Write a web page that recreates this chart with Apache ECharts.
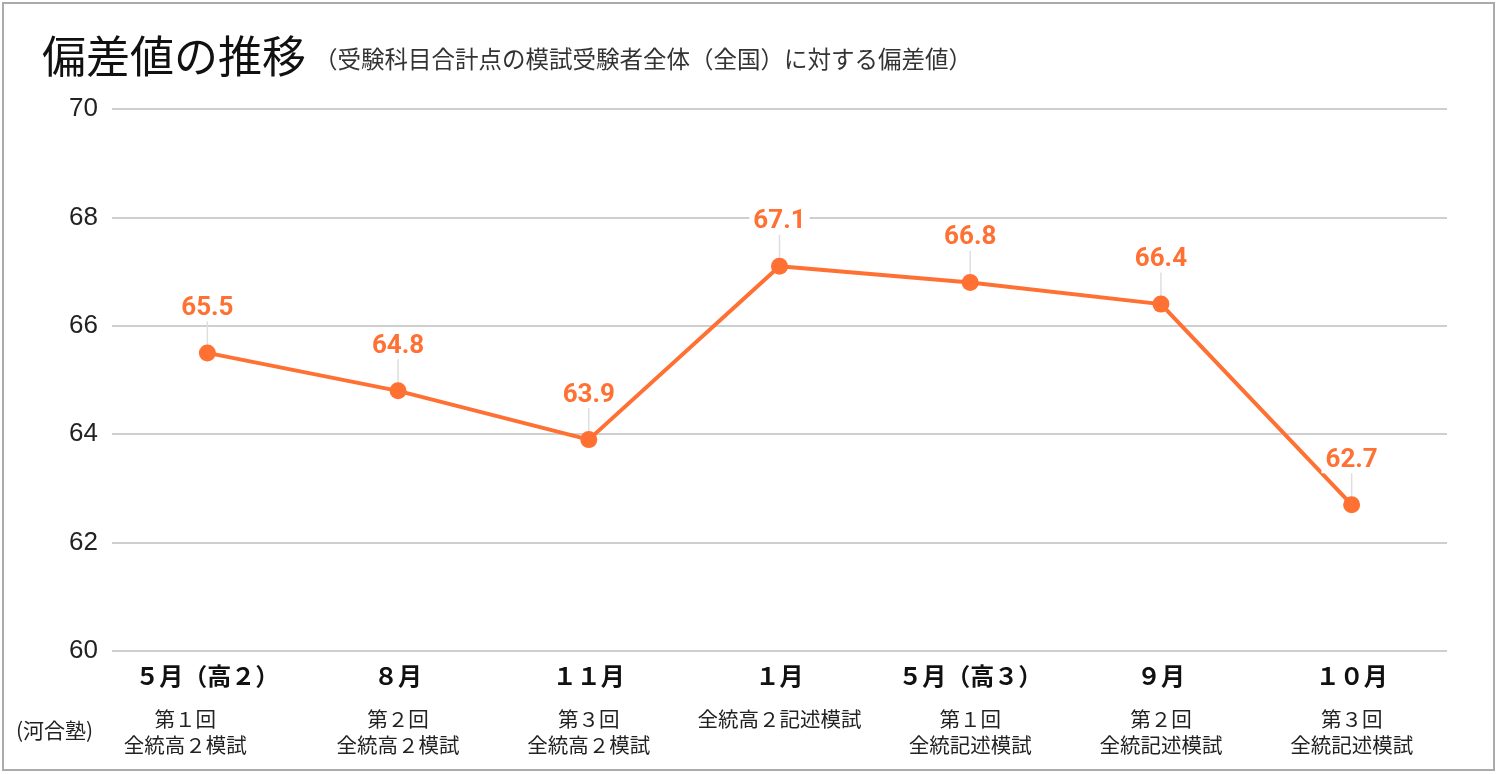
<!DOCTYPE html>
<html>
<head>
<meta charset="utf-8">
<script src="https://cdn.jsdelivr.net/npm/echarts@6/dist/echarts.min.js"></script>
<style>
html, body { margin: 0; padding: 0; background: #fff; }
#chart { width: 1498px; height: 774px; }
</style>
</head>
<body>
<div id="chart"></div>
<script>
// 月（横軸の上段）
const months = ['５月（高２）', '８月', '１１月', '１月', '５月（高３）', '９月', '１０月'];
// 模試名（横軸の下段）
const exams = [
  ['第１回', '全統高２模試'],
  ['第２回', '全統高２模試'],
  ['第３回', '全統高２模試'],
  ['全統高２記述模試'],
  ['第１回', '全統記述模試'],
  ['第２回', '全統記述模試'],
  ['第３回', '全統記述模試']
];
// 偏差値
const scores = [65.5, 64.8, 63.9, 67.1, 66.8, 66.4, 62.7];
const yTicks = [60, 62, 64, 66, 68, 70];

const orange = '#FF7033';
const jp = '"Noto Sans CJK JP", sans-serif';

const chart = echarts.init(document.getElementById('chart'));

const option = {
  animation: false,
  title: [
    {
      text: '偏差値の推移',
      left: 37,
      top: 29,
      textStyle: { fontFamily: jp, fontSize: 44, fontWeight: 'normal', color: '#111' }
    },
    {
      text: '（受験科目合計点の模試受験者全体（全国）に対する偏差値）',
      left: 309,
      top: 42,
      textStyle: { fontFamily: jp, fontSize: 23.5, fontWeight: 'normal', color: '#333' }
    }
  ],
  graphic: [
    {
      type: 'rect',
      shape: { x: 3, y: 3, width: 1491, height: 767 },
      style: { fill: 'none', stroke: '#ababab', lineWidth: 2 },
      silent: true
    },
    {
      type: 'text',
      left: 16,
      top: 720,
      style: { text: '(河合塾)', font: '21px ' + jp, fill: '#222' }
    }
  ],
  grid: { left: 112, right: 51, top: 109, bottom: 123 },
  xAxis: {
    type: 'category',
    data: months,
    boundaryGap: true,
    axisLine: { show: false },
    axisTick: { show: false },
    axisLabel: {
      margin: 9,
      interval: 0,
      formatter: (v, i) => {
        // 最初の模試名だけ元の図で左に寄っている
        const st = i === 0 ? 'e0' : 'e';
        const lines = exams[i].map(s => '{' + st + '|' + s + '}').join('\n');
        return '{m|' + v + '}\n{s| }\n' + lines;
      },
      rich: {
        m: { fontFamily: jp, fontSize: 24, fontWeight: 'bold', color: '#111', lineHeight: 32 },
        s: { fontSize: 10, lineHeight: 14 },
        e: { fontFamily: jp, fontSize: 20.5, color: '#222', lineHeight: 26 },
        e0: { fontFamily: jp, fontSize: 20.5, color: '#222', lineHeight: 26, padding: [0, 44, 0, 0] }
      }
    }
  },
  yAxis: {
    type: 'value',
    min: yTicks[0],
    max: yTicks[yTicks.length - 1],
    interval: 2,
    axisLine: { show: false },
    axisTick: { show: false },
    axisLabel: { margin: 14, fontFamily: 'Liberation Sans, Arial, sans-serif', fontSize: 26, color: '#222' },
    splitLine: { lineStyle: { color: '#cfcfcf', width: 2 } }
  },
  series: [
    {
      // ラベルの引き出し線
      type: 'custom',
      z: 1,
      silent: true,
      data: scores.map((v, i) => [i, v]),
      renderItem: (params, api) => {
        const p = api.coord([api.value(0), api.value(1)]);
        return {
          type: 'line',
          shape: { x1: p[0], y1: p[1] - 37, x2: p[0], y2: p[1] },
          style: { stroke: '#dedede', lineWidth: 1.5 }
        };
      }
    },
    {
      type: 'line',
      z: 3,
      data: scores,
      symbol: 'circle',
      symbolSize: 17,
      itemStyle: { color: orange },
      lineStyle: { color: orange, width: 4 },
      label: {
        show: true,
        position: 'top',
        distance: 23,
        fontFamily: 'Roboto, sans-serif',
        fontSize: 26,
        lineHeight: 26,
        fontWeight: 'bold',
        color: orange,
        backgroundColor: '#fff',
        padding: [0, 4],
        formatter: p => p.value.toFixed(1)
      }
    }
  ]
};

chart.setOption(option);
</script>
</body>
</html>
